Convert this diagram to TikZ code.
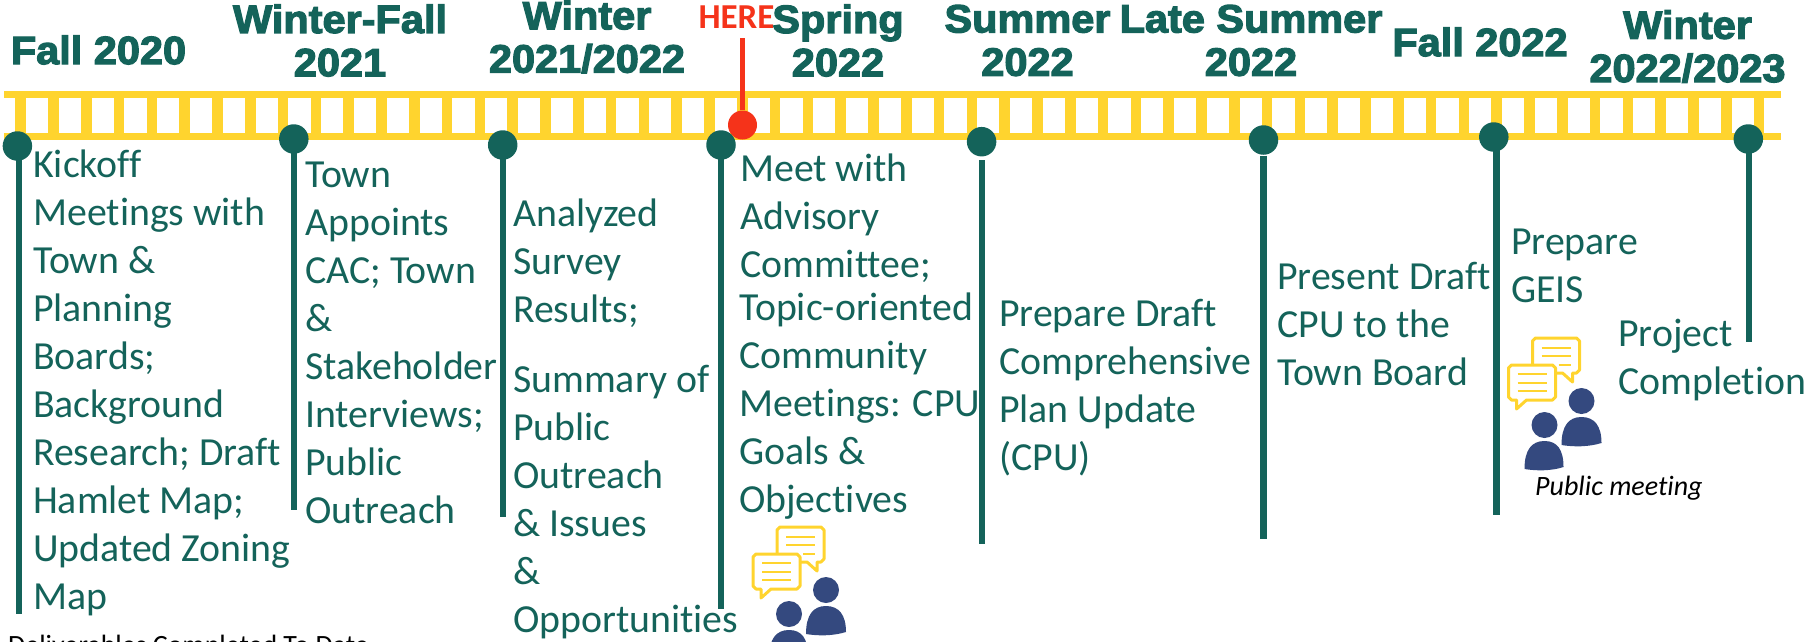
\documentclass[tikz,border=0pt]{standalone}
\usepackage{fontspec}
\setmainfont[Ligatures=NoCommon]{Carlito}
\newfontfamily\headfont[FakeBold=3,FakeStretch=1.05]{Liberation Sans Bold}
\definecolor{tgreen}{HTML}{14635A}
\definecolor{tyellow}{HTML}{FFD42E}
\definecolor{tblue}{HTML}{34497F}
\definecolor{tred}{HTML}{F5331A}
\tikzset{
  x=1pt,y=-1pt,
  stemline/.style={draw=tgreen,line width=6.2pt},
  dotmark/.style={circle,fill=tgreen,minimum size=29.5pt,inner sep=0pt},
  headtext/.style={text=tgreen,font=\headfont\fontsize{39.5}{43.3}\selectfont,align=center,anchor=center,inner sep=0pt},
  bodytext/.style={text=tgreen,font=\fontsize{39.8}{48}\selectfont,align=left,anchor=north west,inner sep=0pt},
  rail/.style={draw=tyellow,line width=7pt},
  tick/.style={draw=tyellow,line width=10.5pt},
  bubble/.style={draw=tyellow,line width=3pt,line join=round,fill=white},
  bubbleline/.style={draw=tyellow,line width=2.8pt},
  person/.style={fill=tblue}
}
\newcommand{\meetingicon}[2]{%
  \begin{scope}[shift={(#1,#2)}]
    \draw[bubble] (27,0) -- (68,0) -- (71,3) -- (71,32) -- (68,35) -- (64,35) -- (64,44) -- (54,35) -- (27,35) -- (24,32) -- (24,3) -- cycle;
    \draw[bubbleline] (33,10) -- (62,10) (33,18) -- (62,18) (50,27) -- (62,27);
    \draw[bubble] (3,27) -- (44,27) -- (47,30) -- (47,59) -- (44,62) -- (18,62) -- (8,71) -- (8,62) -- (3,62) -- (0,59) -- (0,30) -- cycle;
    \draw[bubbleline] (9,36) -- (38,36) (9,45) -- (38,45) (9,53) -- (38,53);
    \fill[person] (73,63) circle (13);
    \fill[person] (53,107) .. controls (53,88) and (60,79) .. (73,79) .. controls (86,79) and (93,88) .. (93,105) .. controls (80,109) and (65,109) .. (53,107) -- cycle;
    \fill[person] (36,87) circle (13);
    \fill[person] (16,131) .. controls (16,112) and (23,103) .. (36,103) .. controls (49,103) and (55,112) .. (55,129) .. controls (43,133) and (28,133) .. (16,131) -- cycle;
  \end{scope}}
\begin{document}
\begin{tikzpicture}
\useasboundingbox (0,0) rectangle (1806,641);
% ladder
\foreach \i in {0,...,53} {
  \draw[tick] ({20.7+32.8*\i},94) -- ({20.7+32.8*\i},136.5);
}
\coordinate (barL) at (4,94);
\coordinate (barR) at (1781,94);
\coordinate (barL2) at (4,136.5);
\coordinate (barR2) at (1781,136.5);
\draw[rail] (barL) -- (barR);
\draw[rail] (barL2) -- (barR2);
% red marker
\node[circle,fill=tred,minimum size=29pt,inner sep=0pt] (red) at (742.5,125) {};
\coordinate (redT) at (742.5,38);
\draw[tred,line width=5.4pt] (redT) -- (red);
\node[text=tred,font=\bfseries\fontsize{35}{40}\selectfont,inner sep=0pt] (here) at (736.5,17) {HERE};
% stems: name / dot x / dot y / stem x / stem start / stem end
\foreach \n/\x/\y/\sx/\st/\e in {a/17.4/146/19.2/150/614,b/293.8/139/293.8/145/510,c/502.7/145/502.7/150/517,d/721/145/721/150/609,e/981.6/141.7/981.6/160/544,f/1263.5/140/1263.5/155.7/539,g/1493.8/137/1496.5/145/515,h/1748.3/139/1748.7/145/342} {
  \node[dotmark] (\n) at (\x,\y) {};
  \coordinate (\n s) at (\sx,\st);
  \coordinate (\n e) at (\sx,\e);
  \draw[stemline] (\n s) -- (\n e);
}
% headings
\node[headtext] (h1) at (98.5,50) {Fall 2020};
\node[headtext] (h2) at (340,40.5) {Winter-Fall\\2021};
\node[headtext] (h3) at (587,37) {Winter\\2021/2022};
\node[headtext] (h4) at (838,40.5) {Spring\\2022};
\node[headtext] (h5) at (1027.5,40.5) {Summer\\2022};
\node[headtext] (h6) at (1251,40.5) {Late Summer\\2022};
\node[headtext] (h7) at (1480,42) {Fall 2022};
\node[headtext] (h8) at (1687.5,46.5) {Winter\\2022/2023};
% body
\node[bodytext] (t1) at (33,150) {Kickoff\\Meetings with\\Town \&\\Planning\\Boards;\\Background\\Research; Draft\\Hamlet Map;\\Updated Zoning\\Map};
\node[bodytext] (t2) at (305,161.5) {Town\\Appoints\\CAC; Town\\\&\\Stakeholder\\Interviews;\\Public\\Outreach};
\node[bodytext] (t3) at (513,199) {Analyzed\\Survey\\Results;};
\node[bodytext] (t3b) at (513,365) {Summary of\\Public\\Outreach\\\& Issues\\\&\\Opportunities};
\node[bodytext] (t4) at (740,154) {Meet with\\Advisory\\Committee;};
\node[bodytext] (t4b) at (739,293) {Topic-oriented\\Community\\Meetings: CPU\\Goals \&\\Objectives};
\node[bodytext] (t5) at (999,299) {Prepare Draft\\Comprehensive\\Plan Update\\(CPU)};
\node[bodytext] (t6) at (1277,262) {Present Draft\\CPU to the\\Town Board};
\node[bodytext] (t7) at (1511,229) {Prepare\\GEIS};
\node[bodytext] (t8) at (1618,319) {Project\\Completion};
\node[text=black,font=\itshape\fontsize{28}{32}\selectfont,anchor=west,inner sep=0pt] (pm) at (1535,488) {Public meeting};
\node[text=black,font=\fontsize{27.9}{30}\selectfont,anchor=west,inner sep=0pt] (del) at (8,647) {Deliverables Completed To Date};
% icons
\meetingicon{753}{527}
\meetingicon{1508.5}{338}
\end{tikzpicture}
\end{document}
